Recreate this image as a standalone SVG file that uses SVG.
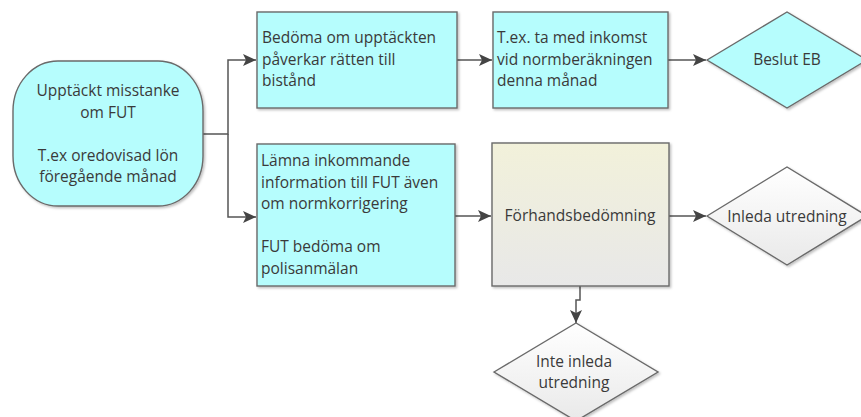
<svg xmlns="http://www.w3.org/2000/svg" width="861" height="417" viewBox="0 0 861 417">
<defs>
<style>
.t{font-family:"Open Sans","DejaVu Sans",sans-serif;font-size:15.5px;fill:#3a3a3a}
.c{text-anchor:middle}
.cy{fill:#b6fdfd;stroke:#6a6a6a;stroke-width:1.4}
.gw{fill:url(#gw);stroke:#6a6a6a;stroke-width:1.4}
.conn{fill:none;stroke:#555;stroke-width:1.5}
</style>
<linearGradient id="gw" x1="0" y1="0" x2="0" y2="1"><stop offset="0" stop-color="#ffffff"/><stop offset="1" stop-color="#e9e9e9"/></linearGradient>
<linearGradient id="gy" x1="0" y1="0" x2="0" y2="1"><stop offset="0" stop-color="#f2f1da"/><stop offset="1" stop-color="#e8e8e8"/></linearGradient>
<filter id="sh" x="-10%" y="-10%" width="120%" height="120%"><feDropShadow dx="1.5" dy="1.5" stdDeviation="1" flood-color="#000" flood-opacity="0.25"/></filter>
<marker id="ar" markerUnits="userSpaceOnUse" markerWidth="14" markerHeight="12" refX="13" refY="6" orient="auto"><path d="M0,0 L13,6 L0,12 L3,6 Z" fill="#444"/></marker>
</defs>
<g id="connectors">
<path class="conn" d="M203,134 H228 V60 H256" marker-end="url(#ar)"/>
<path class="conn" d="M228,134 V217 H256" marker-end="url(#ar)"/>
<path class="conn" d="M457,60 H492" marker-end="url(#ar)"/>
<path class="conn" d="M668,60 H706" marker-end="url(#ar)"/>
<path class="conn" d="M455,216 H491" marker-end="url(#ar)"/>
<path class="conn" d="M669,216 H706" marker-end="url(#ar)"/>
<path class="conn" d="M580,286 V300 H576 V323" marker-end="url(#ar)"/>
</g>
<g id="start">
<rect class="cy" x="13" y="61" width="190" height="145" rx="45" ry="50" filter="url(#sh)"/>
<text class="t c" x="108" y="96">Upptäckt misstanke</text>
<text class="t c" x="108" y="117.5">om FUT</text>
<text class="t c" x="108" y="160.5">T.ex oredovisad lön</text>
<text class="t c" x="108" y="182">föregående månad</text>
</g>
<g id="bedoma">
<rect class="cy" x="257" y="12" width="200" height="96" filter="url(#sh)"/>
<text class="t" x="262" y="43">Bedöma om upptäckten</text>
<text class="t" x="262" y="64.5">påverkar rätten till</text>
<text class="t" x="262" y="86">bistånd</text>
</g>
<g id="tex">
<rect class="cy" x="493" y="12" width="175" height="96" filter="url(#sh)"/>
<text class="t" x="497" y="43">T.ex. ta med inkomst</text>
<text class="t" x="497" y="64.5">vid normberäkningen</text>
<text class="t" x="497" y="86">denna månad</text>
</g>
<g id="beslut">
<polygon class="cy" points="707,60 787,12 867,60 787,108" filter="url(#sh)"/>
<text class="t c" x="787" y="65">Beslut EB</text>
</g>
<g id="lamna">
<rect class="cy" x="257" y="144" width="198" height="142" filter="url(#sh)"/>
<text class="t" x="261" y="166">Lämna inkommande</text>
<text class="t" x="261" y="187.5">information till FUT även</text>
<text class="t" x="261" y="209">om normkorrigering</text>
<text class="t" x="261" y="252">FUT bedöma om</text>
<text class="t" x="261" y="273.5">polisanmälan</text>
</g>
<g id="forhand">
<rect x="492" y="143" width="177" height="143" fill="url(#gy)" stroke="#6a6a6a" stroke-width="1.4" filter="url(#sh)"/>
<text class="t c" x="580" y="221">Förhandsbedömning</text>
</g>
<g id="inleda">
<polygon class="gw" points="707,216 787,167 867,216 787,265" filter="url(#sh)"/>
<text class="t c" x="787" y="222">Inleda utredning</text>
</g>
<g id="inte">
<polygon class="gw" points="494,372 576,323 658,372 576,421" filter="url(#sh)"/>
<text class="t c" x="574" y="367">Inte inleda</text>
<text class="t c" x="574" y="388">utredning</text>
</g>
</svg>
